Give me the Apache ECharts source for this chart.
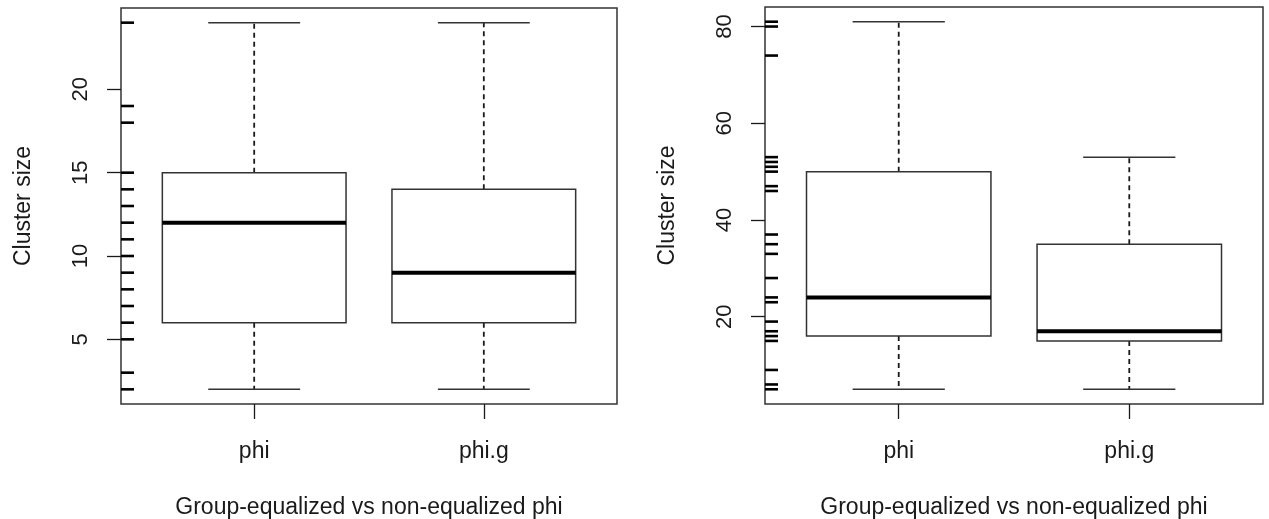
<!DOCTYPE html>
<html>
<head>
<meta charset="utf-8">
<script src="https://cdn.jsdelivr.net/npm/echarts@6/dist/echarts.min.js"></script>
<style>
  html, body { margin: 0; padding: 0; background: #fff; }
  #chart { width: 1269px; height: 519px; }
</style>
</head>
<body>
<div id="chart"></div>
<script>
// Group labels on the x axis
const categories = ['phi', 'phi.g'];

// Five-number summaries: [lower whisker, Q1, median, Q3, upper whisker]
const leftStats = [
  [2, 6, 12, 15, 24],
  [2, 6, 9, 14, 24]
];
const rightStats = [
  [5, 16, 24, 50, 81],
  [5, 15, 17, 35, 53]
];

// Observed cluster sizes shown as a rug on the left edge
const leftRug = [24, 19, 18, 15, 14, 13, 12, 11, 10, 9, 8, 7, 6, 5, 3, 2];
const rightRug = [81, 80, 74, 53, 52, 51, 50, 47, 46, 37, 35, 33, 28, 24, 23, 19, 17, 16, 15, 9, 6, 5];

// Labelled y ticks
const leftTicks = [5, 10, 15, 20];
const rightTicks = [20, 40, 60, 80];

const xTitle = 'Group-equalized vs non-equalized phi';
const yTitle = 'Cluster size';

const FONT = '"Liberation Sans", Arial, Helvetica, sans-serif';
const INK = '#1a1a1a';

// R-style padded range (4% either side)
function padRange(lo, hi) {
  const d = (hi - lo) * 0.04;
  return [lo - d, hi + d];
}
const xRange = padRange(0.5, categories.length + 0.5);

function yRangeOf(stats, rug) {
  const all = rug.concat(...stats);
  return padRange(Math.min(...all), Math.max(...all));
}

function boxRender(params, api) {
  const x = api.value(0);
  const lo = api.coord([x, api.value(1)]);
  const q1 = api.coord([x, api.value(2)]);
  const md = api.coord([x, api.value(3)]);
  const q3 = api.coord([x, api.value(4)]);
  const hi = api.coord([x, api.value(5)]);
  const bw = api.size([0.8, 0])[0];
  const cw = bw / 2;
  const cx = q1[0];
  const thin = { stroke: '#333', lineWidth: 1.5 };
  const dashed = { stroke: INK, lineWidth: 1.8, lineDash: [5, 4] };
  return {
    type: 'group',
    children: [
      { type: 'line', shape: { x1: cx, y1: q3[1], x2: cx, y2: hi[1] }, style: dashed },
      { type: 'line', shape: { x1: cx, y1: q1[1], x2: cx, y2: lo[1] }, style: dashed },
      { type: 'line', shape: { x1: cx - cw / 2, y1: hi[1], x2: cx + cw / 2, y2: hi[1] }, style: thin },
      { type: 'line', shape: { x1: cx - cw / 2, y1: lo[1], x2: cx + cw / 2, y2: lo[1] }, style: thin },
      { type: 'rect', shape: { x: cx - bw / 2, y: q3[1], width: bw, height: q1[1] - q3[1] },
        style: { fill: '#fff', stroke: '#333', lineWidth: 1.5 } },
      { type: 'line', shape: { x1: cx - bw / 2, y1: md[1], x2: cx + bw / 2, y2: md[1] },
        style: { stroke: '#000', lineWidth: 4 } }
    ]
  };
}

function rugRender(params, api) {
  const p = api.coord([api.value(0), api.value(1)]);
  return {
    type: 'line',
    shape: { x1: p[0], y1: p[1], x2: p[0] + 13, y2: p[1] },
    style: { stroke: '#000', lineWidth: 2.6 }
  };
}

function xAxisFor(gridIndex) {
  return {
    type: 'value', gridIndex,
    min: xRange[0], max: xRange[1],
    splitLine: { show: false },
    axisLine: { show: false },
    axisTick: { show: true, customValues: [1, 2], length: 15, lineStyle: { color: INK, width: 1.3 } },
    axisLabel: {
      customValues: [1, 2], margin: 36,
      formatter: v => categories[Math.round(v) - 1],
      fontFamily: FONT, fontSize: 23, color: INK
    },
    name: xTitle, nameLocation: 'middle', nameGap: 92,
    nameTextStyle: { fontFamily: FONT, fontSize: 23, color: INK }
  };
}

function yAxisFor(gridIndex, range, ticks) {
  return {
    type: 'value', gridIndex,
    min: range[0], max: range[1],
    splitLine: { show: false },
    axisLine: { show: false },
    axisTick: { show: true, customValues: ticks, length: 14, lineStyle: { color: INK, width: 1.3 } },
    axisLabel: {
      customValues: ticks, rotate: 90, margin: 29,
      fontFamily: FONT, fontSize: 22, color: INK
    },
    name: yTitle, nameLocation: 'middle', nameGap: 86, nameRotate: 90,
    nameTextStyle: { fontFamily: FONT, fontSize: 23, color: INK }
  };
}

const leftY = yRangeOf(leftStats, leftRug);
const rightY = yRangeOf(rightStats, rightRug);

const toBoxData = stats => stats.map((s, i) => [i + 1].concat(s));
const toRugData = rug => rug.map(v => [xRange[0], v]);

const chart = echarts.init(document.getElementById('chart'), null, { renderer: 'canvas' });
chart.setOption({
  backgroundColor: '#fff',
  animation: false,
  grid: [
    { left: 121, top: 8, width: 496, height: 396, outerBoundsMode: 'none', containLabel: false,
      show: true, borderColor: '#333', borderWidth: 1.5, backgroundColor: 'transparent' },
    { left: 765, top: 7, width: 498, height: 397, outerBoundsMode: 'none', containLabel: false,
      show: true, borderColor: '#333', borderWidth: 1.5, backgroundColor: 'transparent' }
  ],
  xAxis: [xAxisFor(0), xAxisFor(1)],
  yAxis: [yAxisFor(0, leftY, leftTicks), yAxisFor(1, rightY, rightTicks)],
  series: [
    { type: 'custom', xAxisIndex: 0, yAxisIndex: 0, renderItem: boxRender, data: toBoxData(leftStats),
      encode: { x: 0, y: [1, 2, 3, 4, 5] }, silent: true },
    { type: 'custom', xAxisIndex: 1, yAxisIndex: 1, renderItem: boxRender, data: toBoxData(rightStats),
      encode: { x: 0, y: [1, 2, 3, 4, 5] }, silent: true },
    { type: 'custom', xAxisIndex: 0, yAxisIndex: 0, renderItem: rugRender, data: toRugData(leftRug),
      encode: { x: 0, y: 1 }, silent: true, z: 5 },
    { type: 'custom', xAxisIndex: 1, yAxisIndex: 1, renderItem: rugRender, data: toRugData(rightRug),
      encode: { x: 0, y: 1 }, silent: true, z: 5 }
  ]
});
</script>
</body>
</html>
